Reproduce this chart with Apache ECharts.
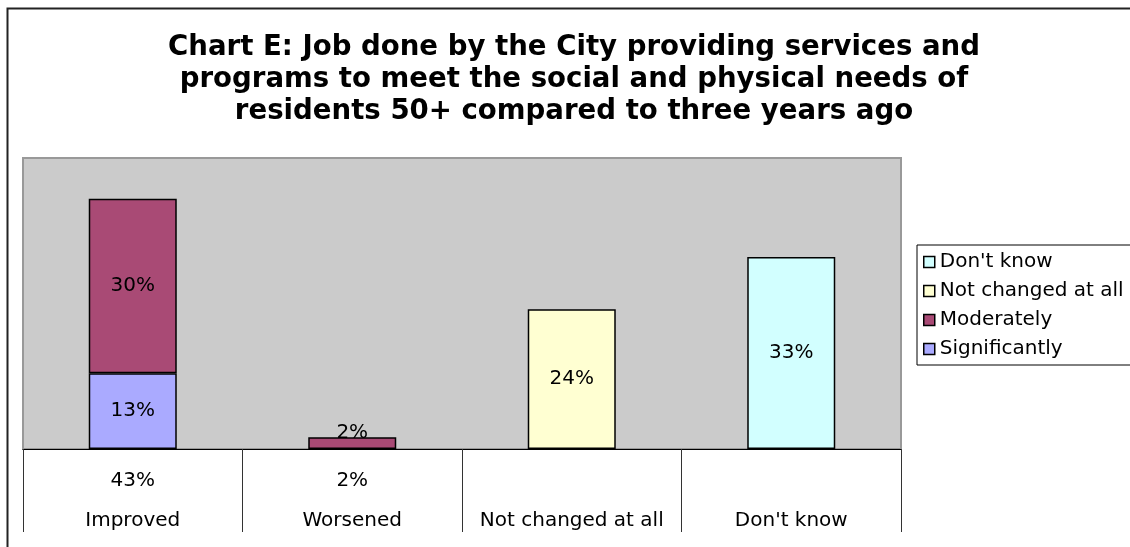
<!DOCTYPE html>
<html><head><meta charset="utf-8">
<script src="https://cdn.jsdelivr.net/npm/echarts@6/dist/echarts.min.js"></script>
<style>html,body{margin:0;padding:0;background:#fff}#c{width:1130px;height:547px}</style>
</head><body><div id="c"></div>
<script>
const categories = ["Improved", "Worsened", "Not changed at all", "Don't know"];
const significantly = [13, null, null, null];
const moderately = [30, 2, null, null];
const notChanged = [null, null, 24, null];
const dontKnow = [null, null, null, 33];
const titleText = "Chart E: Job done by the City providing services and\nprograms to meet the social and physical needs of\nresidents 50+ compared to three years ago";

const F = "DejaVu Sans, Verdana, sans-serif";
const FS = 20;
const totals = categories.map((c, i) => {
  const vals = [significantly[i], moderately[i]].filter(v => v != null);
  return vals.length ? vals.reduce((a, b) => a + b, 0) + '%' : '';
});

const chart = echarts.init(document.getElementById('c'));
const border = { borderColor: '#000', borderWidth: 1.5 };
const lbl = { show: true, position: 'inside', color: '#000', fontFamily: F, fontSize: FS, formatter: p => p.value + '%' };
function mk(name, data, color) {
  return { name, type: 'bar', stack: 'a', barWidth: 88,
    data: data.map(v => (v != null && v < 5)
      ? { value: v, label: { position: 'top', distance: -5 } } : v),
    itemStyle: Object.assign({ color }, border), label: lbl };
}
chart.setOption({
  animation: false,
  title: { text: titleText, left: 569, textAlign: 'center', top: 27,
    textStyle: { fontFamily: F, fontSize: 27.6, fontWeight: 'bold', color: '#000', lineHeight: 32 } },
  graphic: [{ type: 'rect', shape: { x: 7.5, y: 8.5, width: 1200, height: 600 },
    style: { fill: null, stroke: '#222', lineWidth: 2 }, silent: true, z: -10 }],
  grid: { left: 23, right: 229, top: 158, bottom: 98, show: true,
    backgroundColor: '#CBCBCB', borderColor: '#999', borderWidth: 2 },
  legend: { orient: 'vertical', left: 917, top: 245,
    data: ["Don't know", "Not changed at all", "Moderately", "Significantly"],
    icon: 'rect', itemWidth: 11, itemHeight: 11, itemGap: 7,
    itemStyle: { borderColor: '#000', borderWidth: 1.5 },
    borderColor: '#000', borderWidth: 1, padding: [6, 40, 5, 6],
    textStyle: { fontFamily: F, fontSize: FS, color: '#000', lineHeight: 22, padding: [0, 0, 0, 0] } },
  xAxis: { type: 'category', data: categories,
    axisLine: { show: true, lineStyle: { color: '#000', width: 1 } },
    axisTick: { show: true, inside: false, alignWithLabel: false, interval: 0, length: 83,
      lineStyle: { color: '#333', width: 1 } },
    axisLabel: { margin: 12, interval: 0,
      formatter: (v, i) => '{t|' + totals[i] + '}\n{c|' + v + '}',
      rich: { t: { fontFamily: F, fontSize: FS, color: '#000', lineHeight: 40 },
              c: { fontFamily: F, fontSize: FS, color: '#000', lineHeight: 40 } } } },
  yAxis: { type: 'value', min: 0, max: 50, show: false, splitLine: { show: false } },
  series: [
    mk('Significantly', significantly, '#AAAAFF'),
    mk('Moderately', moderately, '#A94A75'),
    mk('Not changed at all', notChanged, '#FFFFD2'),
    mk("Don't know", dontKnow, '#D2FFFF')
  ]
});
</script></body></html>
